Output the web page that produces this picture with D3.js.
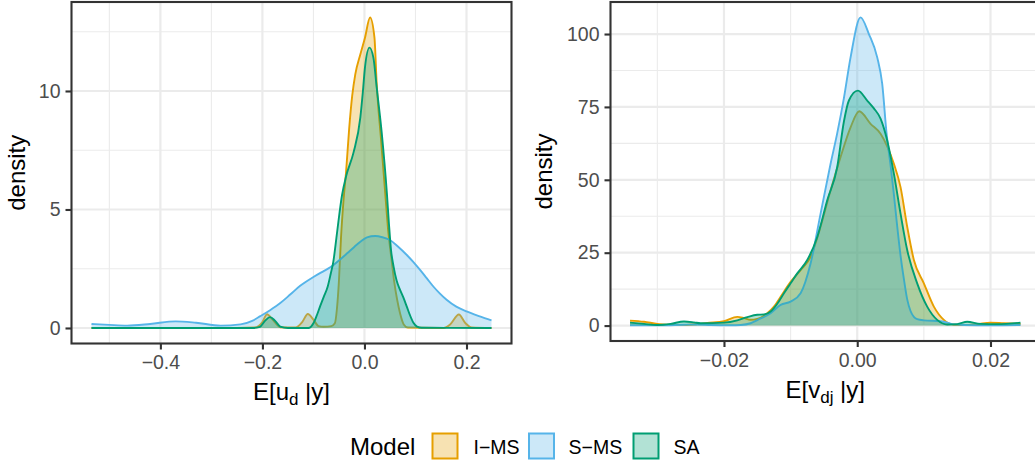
<!DOCTYPE html>
<html>
<head>
<meta charset="utf-8">
<script src="https://cdn.jsdelivr.net/npm/d3@7"></script>
<style>
  body { margin: 0; background: #fff; }
  svg { display: block; font-family: "Liberation Sans", Arial, Helvetica, sans-serif; }
</style>
</head>
<body>
<div id="chart"></div>
<script>
// Modelos y colores
const models = ["I−MS", "S−MS", "SA"];
const modelColors = ["#E69F00", "#56B4E9", "#009E73"];

// Densidades de E[u_d | y]  (pares [x, densidad])
const uIMS = [[-0.535,0],[-0.25,0],[-0.215,0.02],[-0.200,0.25],[-0.191,0.58],[-0.180,0.35],[-0.165,0.03],[-0.135,0.02],
  [-0.122,0.25],[-0.111,0.59],[-0.100,0.35],[-0.090,0.08],[-0.080,0.05],[-0.065,0.08],[-0.058,0.2],[-0.054,0.8],
  [-0.050,2.0],[-0.046,3.8],[-0.041,5.4],[-0.036,6.6],[-0.030,8.4],[-0.024,9.8],[-0.018,10.7],[-0.008,11.55],
  [0.001,12.25],[0.011,13.1],[0.0196,12.25],[0.024,10.3],[0.0327,7.9],[0.041,5.6],[0.047,4.0],[0.053,2.9],
  [0.058,2.0],[0.064,1.2],[0.070,0.6],[0.077,0.15],[0.085,0.02],[0.155,0],[0.168,0.15],[0.185,0.57],[0.198,0.2],
  [0.210,0.02],[0.249,0]];
const uSMS = [[-0.535,0.17],[-0.50,0.13],[-0.465,0.1],[-0.42,0.17],[-0.37,0.28],[-0.33,0.22],[-0.282,0.1],[-0.243,0.15],
  [-0.220,0.3],[-0.204,0.5],[-0.185,0.75],[-0.165,1.05],[-0.145,1.42],[-0.126,1.78],[-0.100,2.15],[-0.080,2.4],
  [-0.067,2.56],[-0.050,2.85],[-0.034,3.15],[-0.020,3.42],[-0.008,3.64],[0.005,3.82],[0.021,3.88],[0.035,3.83],
  [0.050,3.71],[0.065,3.45],[0.083,3.08],[0.096,2.78],[0.109,2.45],[0.122,2.1],[0.135,1.75],[0.148,1.45],
  [0.161,1.19],[0.180,0.9],[0.200,0.70],[0.226,0.49],[0.249,0.32]];
const uSA = [[-0.535,0],[-0.22,0],[-0.205,0.05],[-0.195,0.3],[-0.185,0.46],[-0.175,0.3],[-0.165,0.06],[-0.150,0],
  [-0.11,0],[-0.100,0.2],[-0.094,0.5],[-0.087,0.91],[-0.080,1.3],[-0.072,1.75],[-0.066,2.3],[-0.061,2.8],
  [-0.055,3.8],[-0.051,4.5],[-0.044,5.6],[-0.036,6.4],[-0.0215,7.4],[-0.008,8.9],[-0.003,10.0],[0.001,11.0],
  [0.0098,11.83],[0.0176,11.4],[0.024,10.15],[0.034,8.2],[0.044,5.67],[0.048,4.4],[0.052,3.3],[0.057,2.6],
  [0.063,2.0],[0.070,1.6],[0.076,1.3],[0.083,0.9],[0.089,0.55],[0.096,0.22],[0.103,0.06],[0.112,0.01],[0.249,0]];

// Densidades de E[v_dj | y]
const vIMS = [[-0.0341,1.7],[-0.032,1.3],[-0.030,0.6],[-0.028,0.3],[-0.026,0.2],[-0.024,0.5],[-0.0225,0.9],[-0.020,1.5],
  [-0.018,3.0],[-0.017,2.6],[-0.016,2.0],[-0.015,2.3],[-0.0135,4.2],[-0.0125,6.5],[-0.0115,9.9],[-0.010,15.0],
  [-0.0085,19.0],[-0.007,23.6],[-0.0055,33.9],[-0.004,46.4],[-0.0025,57.8],[-0.001,68],[0.0003,73.5],[0.002,69.2],
  [0.0035,65.8],[0.0045,61.5],[0.0055,55.5],[0.0065,47.5],[0.0075,33.9],[0.0085,22.5],[0.010,14.5],[0.0115,6.5],
  [0.013,1.95],[0.0145,0.3],[0.016,0.2],[0.018,0.5],[0.020,1.0],[0.022,0.8],[0.0245,0.6]];
const vSMS = [[-0.0341,0.1],[-0.030,0.1],[-0.026,0.3],[-0.024,0.4],[-0.022,0.2],[-0.019,0.1],[-0.0175,0.2],[-0.016,0.8],
  [-0.015,1.9],[-0.013,4.2],[-0.0115,7.1],[-0.010,8.2],[-0.0085,11.1],[-0.007,21.3],[-0.0055,38.4],[-0.004,55.5],
  [-0.003,66],[-0.002,78],[-0.001,92],[0.0005,105.7],[0.00175,100],[0.003,92],[0.00375,82.9],[0.0044,66],
  [0.005,55],[0.0055,45],[0.006,34],[0.0065,24],[0.007,16],[0.0075,9],[0.008,5],[0.0085,3],[0.009,2.2],
  [0.010,1.8],[0.0125,1.5],[0.0135,1.0],[0.0145,0.4],[0.016,0.2],[0.020,0.1],[0.0245,0.2]];
const vSA = [[-0.0341,1.0],[-0.032,0.6],[-0.030,0.2],[-0.028,0.6],[-0.026,1.4],[-0.0245,1.1],[-0.0235,0.8],[-0.020,1.0],
  [-0.018,1.8],[-0.0165,2.9],[-0.015,3.7],[-0.014,3.8],[-0.013,4.8],[-0.012,7.5],[-0.011,11.1],[-0.010,14.5],
  [-0.009,17.9],[-0.0075,22.5],[-0.006,30.4],[-0.0045,43.0],[-0.003,54.4],[-0.002,70],[-0.00125,77.2],[0.0001,80.6],
  [0.0015,77.2],[0.0025,74.5],[0.0035,71],[0.0045,63.5],[0.0055,52.1],[0.0065,38.4],[0.0075,25.9],[0.009,14.5],
  [0.0105,6.5],[0.012,1.95],[0.0135,0.4],[0.015,0.5],[0.0165,1.3],[0.0185,0.6],[0.021,0.5],[0.0245,1.0]];

// Ticks
const uTicksX = [-0.4, -0.2, 0.0, 0.2];
const uTicksY = [0, 5, 10];
const vTicksX = [-0.02, 0.00, 0.02];
const vTicksY = [0, 25, 50, 75, 100];

const W = 1035, H = 466;
const svg = d3.select("#chart").append("svg").attr("width", W).attr("height", H);

const defs = svg.append("defs");

// Expansión tipo ggplot (5%)
function expand(ext) {
  const d = (ext[1] - ext[0]) * 0.05;
  return [ext[0] - d, ext[1] + d];
}

function drawPanel(cfg, idx) {
  const all = cfg.series.flat();
  const x = d3.scaleLinear().domain(expand(d3.extent(all, d => d[0]))).range([cfg.left, cfg.right]);
  const y = d3.scaleLinear().domain(expand([0, d3.max(all, d => d[1])])).range([cfg.bottom, cfg.top]);

  const clipId = "clip" + idx;
  defs.append("clipPath").attr("id", clipId).append("rect")
    .attr("x", cfg.left).attr("y", cfg.top)
    .attr("width", cfg.right - cfg.left).attr("height", cfg.bottom - cfg.top);

  const g = svg.append("g");
  const inner = g.append("g").attr("clip-path", `url(#${clipId})`);

  // Rejilla menor
  const mid = t => t.slice(0, -1).map((v, i) => (v + t[i + 1]) / 2);
  const stepX = cfg.ticksX[1] - cfg.ticksX[0];
  const stepY = cfg.ticksY[1] - cfg.ticksY[0];
  const minorX = mid([cfg.ticksX[0] - stepX, ...cfg.ticksX, cfg.ticksX[cfg.ticksX.length - 1] + stepX]);
  const minorY = mid([...cfg.ticksY, cfg.ticksY[cfg.ticksY.length - 1] + stepY]);

  inner.selectAll(".mx").data(minorX).enter().append("line")
    .attr("x1", d => x(d)).attr("x2", d => x(d)).attr("y1", cfg.top).attr("y2", cfg.bottom)
    .attr("stroke", "#EBEBEB").attr("stroke-width", 1.1);
  inner.selectAll(".my").data(minorY).enter().append("line")
    .attr("y1", d => y(d)).attr("y2", d => y(d)).attr("x1", cfg.left).attr("x2", cfg.right)
    .attr("stroke", "#EBEBEB").attr("stroke-width", 1.1);
  inner.selectAll(".gx").data(cfg.ticksX).enter().append("line")
    .attr("x1", d => x(d)).attr("x2", d => x(d)).attr("y1", cfg.top).attr("y2", cfg.bottom)
    .attr("stroke", "#EBEBEB").attr("stroke-width", 2.2);
  inner.selectAll(".gy").data(cfg.ticksY).enter().append("line")
    .attr("y1", d => y(d)).attr("y2", d => y(d)).attr("x1", cfg.left).attr("x2", cfg.right)
    .attr("stroke", "#EBEBEB").attr("stroke-width", 2.2);

  // Densidades: relleno + línea superior, en orden de los niveles
  const area = d3.area().x(d => x(d[0])).y0(y(0)).y1(d => y(d[1])).curve(d3.curveMonotoneX);
  const line = d3.line().x(d => x(d[0])).y(d => y(d[1])).curve(d3.curveMonotoneX);
  cfg.series.forEach((s, i) => {
    inner.append("path").datum(s).attr("d", area)
      .attr("fill", modelColors[i]).attr("fill-opacity", 0.3).attr("stroke", "none");
    inner.append("path").datum(s).attr("d", line)
      .attr("fill", "none").attr("stroke", modelColors[i]).attr("stroke-width", 1.9)
      .attr("stroke-linejoin", "round");
  });

  // Borde del panel
  g.append("rect")
    .attr("x", cfg.left).attr("y", cfg.top)
    .attr("width", cfg.right - cfg.left).attr("height", cfg.bottom - cfg.top)
    .attr("fill", "none").attr("stroke", "#333333").attr("stroke-width", 2.1);

  // Ejes
  const ax = g.append("g").attr("transform", `translate(0,${cfg.bottom})`)
    .call(d3.axisBottom(x).tickValues(cfg.ticksX).tickFormat(d3.format(cfg.fmtX)).tickSize(6).tickPadding(6));
  const ay = g.append("g").attr("transform", `translate(${cfg.left},0)`)
    .call(d3.axisLeft(y).tickValues(cfg.ticksY).tickFormat(d3.format("d")).tickSize(6).tickPadding(5));
  [ax, ay].forEach(a => {
    a.select(".domain").remove();
    a.selectAll(".tick line").attr("stroke", "#333333").attr("stroke-width", 2.1);
    a.selectAll(".tick text").attr("fill", "#4D4D4D").style("font-size", "19.5px")
      .style("font-family", "'Liberation Sans', Arial, sans-serif");
  });

  // Títulos
  g.append("text")
    .attr("transform", `translate(${cfg.yTitleX},${(cfg.top + cfg.bottom) / 2}) rotate(-90)`)
    .attr("text-anchor", "middle").style("font-size", "24px").attr("fill", "#000")
    .text("density");

  const xt = g.append("text")
    .attr("x", (cfg.left + Math.min(cfg.right, W + 5)) / 2).attr("y", cfg.xTitleY)
    .attr("text-anchor", "middle").style("font-size", "24px").attr("fill", "#000");
  xt.append("tspan").text(cfg.xTitle[0]);
  xt.append("tspan").attr("dy", 5).style("font-size", "17px").text(cfg.xTitle[1]);
  xt.append("tspan").attr("dy", -5).text(cfg.xTitle[2]);
}

drawPanel({
  series: [uIMS, uSMS, uSA], ticksX: uTicksX, ticksY: uTicksY, fmtX: ".1f",
  left: 71.5, right: 511.5, top: 2, bottom: 343.5,
  yTitleX: 25, xTitleY: 399.5, xTitle: ["E[u", "d", " |y]"]
}, 0);

drawPanel({
  series: [vIMS, vSMS, vSA], ticksX: vTicksX, ticksY: vTicksY, fmtX: ".2f",
  left: 610.5, right: 1040, top: 2, bottom: 341,
  yTitleX: 552, xTitleY: 398, xTitle: ["E[v", "dj", " |y]"]
}, 1);

// Leyenda
const legend = svg.append("g");
legend.append("text").attr("x", 350).attr("y", 455).style("font-size", "24px").attr("fill", "#000").text("Model");
const keyX = [432.5, 529, 633.5];
const labX = [473.5, 568.5, 673.5];
models.forEach((m, i) => {
  legend.append("rect")
    .attr("x", keyX[i]).attr("y", 433.5).attr("width", 25).attr("height", 25)
    .attr("fill", modelColors[i]).attr("fill-opacity", 0.3)
    .attr("stroke", modelColors[i]).attr("stroke-width", 2);
  legend.append("text").attr("x", labX[i]).attr("y", 454)
    .style("font-size", "19.5px").attr("fill", "#000").text(m);
});
</script>
</body>
</html>
